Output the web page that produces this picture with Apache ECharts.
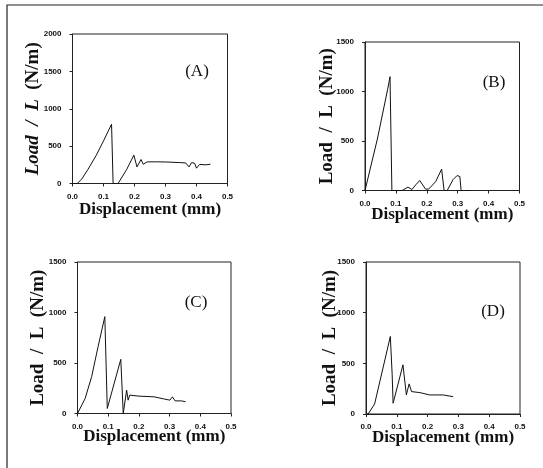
<!DOCTYPE html>
<html>
<head>
<meta charset="utf-8">
<script src="https://cdn.jsdelivr.net/npm/echarts@6/dist/echarts.min.js"></script>
<style>
html,body{margin:0;padding:0;background:#fff;}
#chart{width:543px;height:468px;}
</style>
</head>
<body>
<div id="chart"></div>
<script>
// Panel labels
var panelLabels = ['(A)', '(B)', '(C)', '(D)'];
var xTicks = [0, 0.1, 0.2, 0.3, 0.4, 0.5];
var yMaxA = 2000, yMaxOther = 1500;

// Panel A: displacement (mm), load/L (N/m)
var ax = [0, 0.015, 0.03, 0.05, 0.077, 0.1, 0.126, 0.131, 0.147, 0.175, 0.198, 0.208, 0.221, 0.228, 0.241, 0.27, 0.3, 0.346, 0.365, 0.376, 0.384, 0.389, 0.394, 0.4, 0.41, 0.43, 0.445];
var ay = [0, 0, 60, 190, 380, 570, 793, 0, 0, 190, 379, 222, 321, 258, 289, 290, 288, 280, 275, 222, 280, 258, 270, 205, 255, 250, 258];

// Panel B
var bx = [0, 0.005, 0.04, 0.074, 0.081, 0.087, 0.12, 0.139, 0.152, 0.165, 0.177, 0.196, 0.206, 0.229, 0.248, 0.256, 0.266, 0.285, 0.298, 0.307, 0.311, 0.34];
var by = [0, 0, 520, 1033, 1150, 0, 0, 34, 10, 60, 101, 14, 14, 91, 216, 0, 0, 110, 151, 141, 0, 0];

// Panel C
var cx = [0, 0.005, 0.025, 0.046, 0.067, 0.089, 0.097, 0.141, 0.149, 0.16, 0.165, 0.17, 0.175, 0.2, 0.25, 0.28, 0.301, 0.309, 0.318, 0.339, 0.345, 0.352];
var cy = [0, 0, 150, 364, 661, 959, 50, 536, 0, 231, 132, 182, 175, 172, 165, 145, 132, 165, 125, 125, 130, 116];

// Panel D
var dx = [0, 0.007, 0.028, 0.079, 0.085, 0.087, 0.088, 0.12, 0.131, 0.14, 0.148, 0.175, 0.207, 0.251, 0.283];
var dy = [0, 0, 99, 765, 386, 386, 106, 485, 188, 297, 221, 211, 188, 188, 171];

var panels = [[ax, ay], [bx, by], [cx, cy], [dx, dy]];
var yMaxes = [yMaxA, yMaxOther, yMaxOther, yMaxOther];

var grids = [
  {left: 72.5, top: 34, width: 155, height: 149.5},
  {left: 365, top: 42, width: 154.5, height: 148.5},
  {left: 77.5, top: 262, width: 153.5, height: 151.5},
  {left: 366, top: 262, width: 154, height: 152}
];
var xNameGap = [18, 16, 15, 15.5];
var yNameGap = [30, 28.5, 30, 26.5];
var letterPos = [[197, 72], [494, 83], [196, 303], [493, 312]];

function pairs(xs, ys) { return xs.map(function (v, i) { return [v, ys[i]]; }); }

var tickFont = {fontFamily: 'Liberation Sans', fontWeight: 'bold', fontSize: 8, color: '#111'};

var option = {
  backgroundColor: '#fff',
  animation: false,
  grid: grids.map(function (g) {
    return Object.assign({show: true, borderColor: '#222', borderWidth: 1, backgroundColor: 'transparent', containLabel: false}, g);
  }),
  xAxis: grids.map(function (g, i) {
    return {
      gridIndex: i, type: 'value', min: 0, max: 0.5, interval: 0.1,
      name: 'Displacement (mm)', nameLocation: 'middle', nameGap: xNameGap[i], nameMoveOverlap: false,
      nameTextStyle: {fontFamily: 'Liberation Serif', fontWeight: 'bold', fontSize: 17, color: '#111'},
      axisLine: {show: true, lineStyle: {color: '#222', width: 1}},
      axisTick: {show: true, inside: false, length: 3, lineStyle: {color: '#222'}},
      axisLabel: Object.assign({margin: 9, formatter: function (v) { return v.toFixed(1); }, showMinLabel: true, showMaxLabel: true}, tickFont),
      splitLine: {show: false}
    };
  }),
  yAxis: grids.map(function (g, i) {
    return {
      gridIndex: i, type: 'value', min: 0, max: yMaxes[i], interval: 500,
      name: i === 0 ? '{it|Load  /  L}  (N/m)' : 'Load  /  L  (N/m)',
      nameLocation: 'middle', nameGap: yNameGap[i], nameRotate: 90, nameMoveOverlap: false,
      nameTextStyle: {fontFamily: 'Liberation Serif', fontWeight: 'bold', fontSize: 19, color: '#111',
        rich: {it: {fontFamily: 'Liberation Serif', fontWeight: 'bold', fontStyle: 'italic', fontSize: 19, color: '#111'}}},
      axisLine: {show: true, lineStyle: {color: '#222', width: 1}},
      axisTick: {show: true, inside: false, length: 3, lineStyle: {color: '#222'}},
      axisLabel: Object.assign({margin: 11, formatter: function (v) { return String(v); }, showMinLabel: true, showMaxLabel: true}, tickFont),
      splitLine: {show: false}
    };
  }),
  series: panels.map(function (p, i) {
    return {
      type: 'line', xAxisIndex: i, yAxisIndex: i, data: pairs(p[0], p[1]),
      symbol: 'none', smooth: false, clip: true,
      lineStyle: {color: '#111', width: 1}
    };
  }),
  graphic: [
    {type: 'polyline', shape: {points: [[7, 468], [7, 5], [543, 5]]}, style: {stroke: '#222', lineWidth: 1.2, fill: null}, silent: true}
  ].concat(panelLabels.map(function (t, i) {
    return {type: 'text', x: letterPos[i][0], y: letterPos[i][1], silent: true,
      style: {text: t, font: '17px "Liberation Serif"', fill: '#111', align: 'center', verticalAlign: 'middle'}};
  }))
};

var chart = echarts.init(document.getElementById('chart'), null, {renderer: 'canvas'});
chart.setOption(option);
</script>
</body>
</html>
